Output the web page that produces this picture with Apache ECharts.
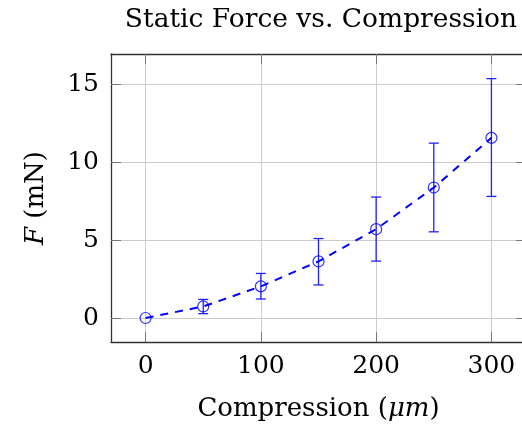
<!DOCTYPE html>
<html>
<head>
<meta charset="utf-8">
<script src="https://cdn.jsdelivr.net/npm/echarts@6/dist/echarts.min.js"></script>
<style>
    html, body { margin: 0; padding: 0; background: #fff; }
    #chart { width: 522px; height: 427px; }
</style>
</head>
<body>
<div id="chart"></div>
<script>
    // compression in um
    var compression = [0, 50, 100, 150, 200, 250, 300];
    // static force in mN
    var force = [0, 0.74, 2.03, 3.63, 5.7, 8.37, 11.56];
    var errLow = [0, 0.28, 1.22, 2.12, 3.65, 5.53, 7.8];
    var errHigh = [0, 1.19, 2.86, 5.1, 7.76, 11.22, 15.36];
    var xTicks = [0, 100, 200, 300];
    var yTicks = [0, 5, 10, 15];

    var font = "'DejaVu Serif', 'Liberation Serif', serif";
    var fontSize = 25;
    var blue = '#0000ff';

    var points = compression.map(function (x, i) { return [x, force[i]]; });
    var bars = compression.map(function (x, i) { return [x, errLow[i], errHigh[i]]; });

    var myChart = echarts.init(document.getElementById('chart'));

    var option = {
        animation: false,
        title: {
            text: 'Static Force vs. Compression',
            left: 316,
            textAlign: 'center',
            top: 2,
            textStyle: {
                fontFamily: font,
                fontWeight: 'normal',
                fontSize: 26.5,
                color: '#000'
            }
        },
        grid: {
            left: 111,
            top: 54,
            right: -4,
            bottom: 85,
            outerBoundsMode: 'none'
        },
        xAxis: [
            {
                type: 'value',
                min: -30,
                max: 330,
                name: 'Compression ({i|μm})',
                nameLocation: 'middle',
                nameGap: 54,
                nameTextStyle: {
                    fontFamily: font,
                    fontSize: 26,
                    color: '#000',
                    rich: {
                        i: { fontFamily: font, fontSize: 26, fontStyle: 'italic', color: '#000' }
                    }
                },
                axisLine: { onZero: false, lineStyle: { color: '#333', width: 1.3 } },
                axisTick: { inside: true, length: 10, customValues: xTicks, lineStyle: { color: '#777' } },
                axisLabel: { customValues: xTicks, margin: 12, fontFamily: font, fontSize: fontSize, color: '#000' },
                splitLine: { show: true, lineStyle: { color: '#ccc', width: 1 } }
            },
            {
                type: 'value',
                position: 'top',
                min: -30,
                max: 330,
                axisLine: { onZero: false, lineStyle: { color: '#333', width: 1.3 } },
                axisTick: { inside: true, length: 10, customValues: xTicks, lineStyle: { color: '#777' } },
                axisLabel: { show: false },
                splitLine: { show: false }
            }
        ],
        yAxis: [
            {
                type: 'value',
                min: -1.54,
                max: 16.94,
                name: '{i|F} (mN)',
                nameLocation: 'middle',
                nameGap: 62,
                nameRotate: 90,
                nameTextStyle: {
                    fontFamily: font,
                    fontSize: 26,
                    color: '#000',
                    rich: {
                        i: { fontFamily: font, fontSize: 26, fontStyle: 'italic', color: '#000' }
                    }
                },
                axisLine: { show: true, onZero: false, lineStyle: { color: '#333', width: 1.3 } },
                axisTick: { show: true, inside: true, length: 10, customValues: yTicks, lineStyle: { color: '#777' } },
                axisLabel: { customValues: yTicks, margin: 12, fontFamily: font, fontSize: fontSize, color: '#000' },
                splitLine: { show: true, lineStyle: { color: '#ccc', width: 1 } }
            },
            {
                type: 'value',
                position: 'right',
                min: -1.54,
                max: 16.94,
                axisLine: { show: true, onZero: false, lineStyle: { color: '#333', width: 1.3 } },
                axisTick: { show: true, inside: true, length: 10, customValues: yTicks, lineStyle: { color: '#777' } },
                axisLabel: { show: false },
                splitLine: { show: false }
            }
        ],
        series: [
            {
                name: 'fit',
                type: 'line',
                data: points,
                symbol: 'none',
                lineStyle: { color: blue, width: 2, type: [8, 7] }
            },
            {
                name: 'error',
                type: 'custom',
                data: bars,
                renderItem: function (params, api) {
                    var x = api.value(0);
                    var lo = api.coord([x, api.value(1)]);
                    var hi = api.coord([x, api.value(2)]);
                    var w = 5;
                    var style = { stroke: '#2020ff', lineWidth: 1.3, fill: null };
                    if (api.value(2) - api.value(1) <= 0) {
                        return { type: 'group', children: [] };
                    }
                    return {
                        type: 'group',
                        children: [
                            { type: 'line', shape: { x1: lo[0], y1: lo[1], x2: hi[0], y2: hi[1] }, style: style },
                            { type: 'line', shape: { x1: lo[0] - w, y1: lo[1], x2: lo[0] + w, y2: lo[1] }, style: style },
                            { type: 'line', shape: { x1: hi[0] - w, y1: hi[1], x2: hi[0] + w, y2: hi[1] }, style: style }
                        ]
                    };
                },
                z: 3
            },
            {
                name: 'data',
                type: 'scatter',
                data: points,
                symbol: 'circle',
                symbolSize: 11,
                itemStyle: { color: 'transparent', borderColor: blue, borderWidth: 1.2 },
                z: 4
            }
        ]
    };

    myChart.setOption(option);
</script>
</body>
</html>
